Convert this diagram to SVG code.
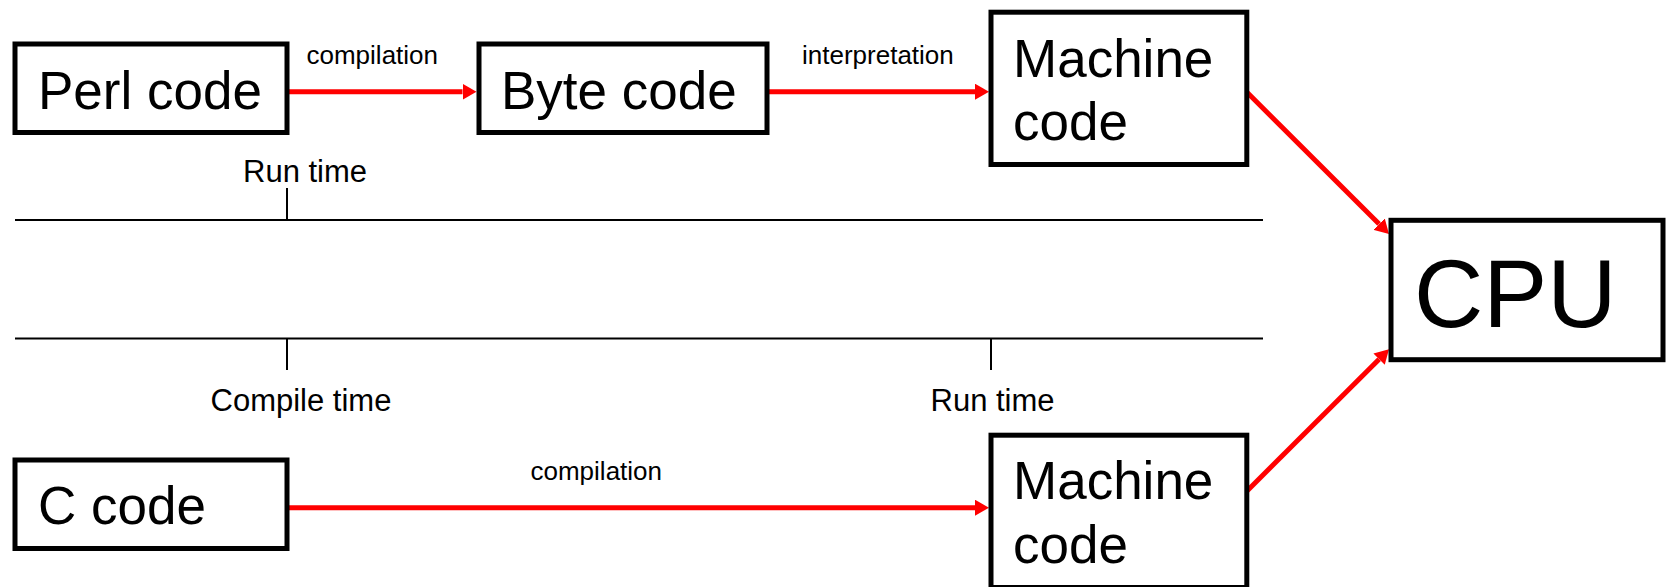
<svg xmlns="http://www.w3.org/2000/svg" width="1666" height="587" viewBox="0 0 1666 587">
<style>
  .box { fill: #ffffff; stroke: #000000; stroke-width: 5; }
  .big { font-family: "Liberation Sans", Arial, sans-serif; font-size: 53px; fill: #000000; }
  .cpu { font-family: "Liberation Sans", Arial, sans-serif; font-size: 96px; fill: #000000; }
  .lbl { font-family: "Liberation Sans", Arial, sans-serif; font-size: 26px; fill: #000000; }
  .tl  { font-family: "Liberation Sans", Arial, sans-serif; font-size: 31px; fill: #000000; }
  .axis { stroke: #000000; stroke-width: 2; fill: none; }
  .conn { stroke: #ff0000; stroke-width: 5; fill: none; marker-end: url(#arrow); }
</style>
<defs>
  <marker id="arrow" viewBox="0 0 14 16" refX="0" refY="8" markerWidth="14" markerHeight="16" markerUnits="userSpaceOnUse" orient="auto">
    <path d="M0,0 L14,8 L0,16 z" fill="#ff0000"/>
  </marker>
</defs>
<rect width="1666" height="587" fill="#ffffff"/>

<g id="timeline">
  <line class="axis" x1="15" y1="220" x2="1263" y2="220"/>
  <line class="axis" x1="287" y1="188" x2="287" y2="220"/>
  <line class="axis" x1="15" y1="338.5" x2="1263" y2="338.5"/>
  <line class="axis" x1="287" y1="338.5" x2="287" y2="370"/>
  <line class="axis" x1="991" y1="338.5" x2="991" y2="370"/>
  <text class="tl" x="243" y="181.7">Run time</text>
  <text class="tl" x="210.5" y="410.7">Compile time</text>
  <text class="tl" x="930.5" y="410.7">Run time</text>
</g>

<g id="connectors">
  <line class="conn" x1="287" y1="91.7" x2="462.5" y2="91.7"/>
  <line class="conn" x1="767" y1="91.7" x2="975" y2="91.7"/>
  <line class="conn" x1="287" y1="507.7" x2="975" y2="507.7"/>
  <line class="conn" x1="1247" y1="92.3" x2="1379.1" y2="224.1"/>
  <line class="conn" x1="1247" y1="491" x2="1379.1" y2="359.2"/>
  <text class="lbl" x="306.5" y="64">compilation</text>
  <text class="lbl" x="802" y="64">interpretation</text>
  <text class="lbl" x="530.5" y="480">compilation</text>
</g>

<g id="perl">
  <rect class="box" x="15" y="44" width="272" height="88.5"/>
  <text class="big" x="38" y="109">Perl code</text>
</g>
<g id="bytecode">
  <rect class="box" x="479" y="44" width="288" height="88.5"/>
  <text class="big" x="501" y="109">Byte code</text>
</g>
<g id="machine1">
  <rect class="box" x="991" y="12.2" width="255.8" height="152.3"/>
  <text class="big" x="1013" y="76.7">Machine</text>
  <text class="big" x="1013" y="140">code</text>
</g>
<g id="ccode">
  <rect class="box" x="15" y="460" width="272" height="88.5"/>
  <text class="big" x="38" y="524">C code</text>
</g>
<g id="machine2">
  <rect class="box" x="991" y="435.2" width="255.8" height="152.3"/>
  <text class="big" x="1013" y="499.3">Machine</text>
  <text class="big" x="1013" y="563.3">code</text>
</g>
<g id="cpu">
  <rect class="box" x="1391" y="220.3" width="272" height="139.4"/>
  <text class="cpu" x="1414" y="326.7">CPU</text>
</g>
</svg>
